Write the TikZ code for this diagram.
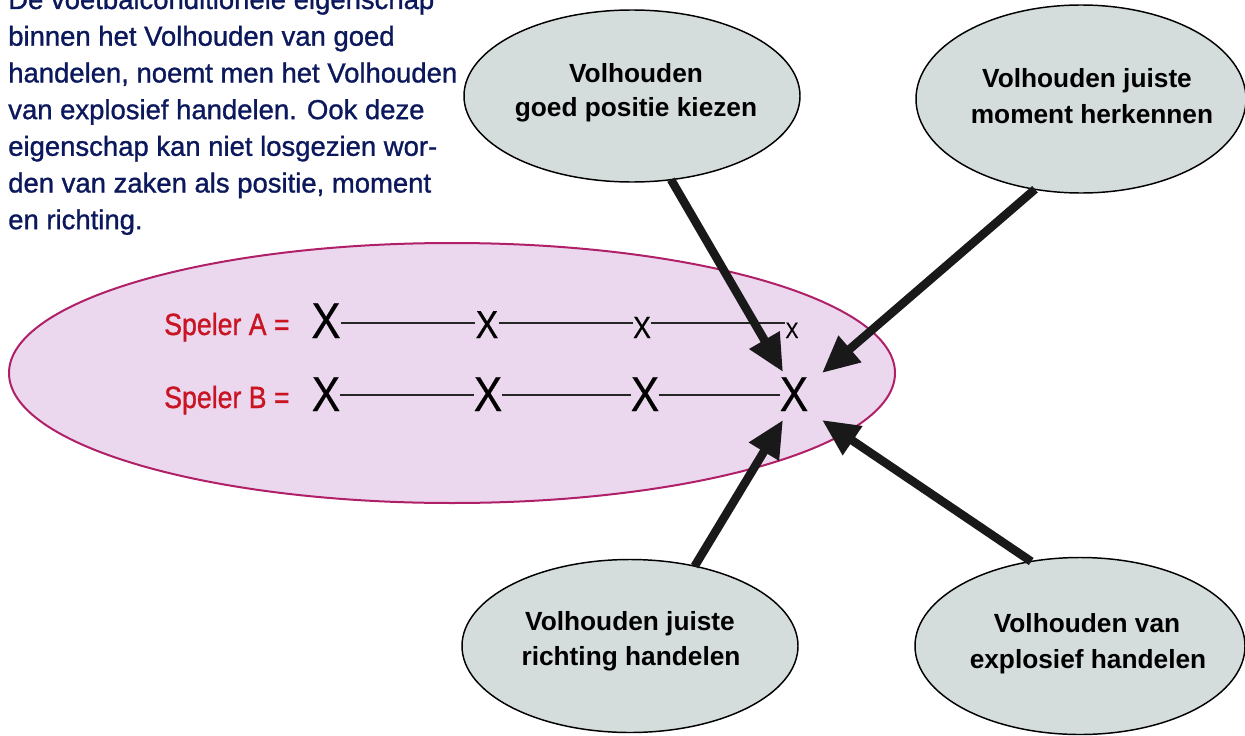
\documentclass[tikz,border=0pt]{standalone}
\usepackage{fontspec}
\setmainfont{Liberation Sans}
\newfontfamily\medfont[FakeBold=1.1]{Liberation Sans}
\newfontfamily\semifont[FakeBold=0.5]{Liberation Sans}
\usetikzlibrary{shapes.geometric,arrows.meta}
\definecolor{navy}{RGB}{12,24,92}
\definecolor{spred}{RGB}{200,20,35}
\definecolor{bubfill}{RGB}{212,220,220}
\definecolor{pinkfill}{RGB}{236,216,238}
\definecolor{pinkedge}{RGB}{176,32,104}
\begin{document}
\begin{tikzpicture}[x=0.75pt,y=-0.75pt,
  bubble/.style={ellipse, draw=black, line width=1.1pt, fill=bubfill, inner sep=0pt, outer sep=0pt},
  group/.style={ellipse, draw=pinkedge, line width=1.5pt, fill=pinkfill, inner sep=0pt, outer sep=0pt},
  bubtext/.style={font=\bfseries\fontsize{19.7pt}{26pt}\selectfont, anchor=base, inner sep=0pt},
  bodytext/.style={text=navy, font=\medfont\fontsize{20.6pt}{27.5pt}\selectfont, anchor=base west, inner sep=0pt},
  speler/.style={text=spred, font=\medfont\fontsize{23pt}{27pt}\selectfont, anchor=base west, inner sep=0pt},
  xmark/.style={anchor=base, inner sep=0pt},
  link/.style={line width=1.5pt, black!85},
  arr/.style={line width=6.4pt, draw=black!90, -{Triangle[length=27.75pt,width=24.75pt]}}
]
\useasboundingbox (0,0) rectangle (1245,735);
\clip (0,0) rectangle (1245,735);

% body text
\node[bodytext] (tl1) at (8,9) {De voetbalconditionele eigenschap};
\node[bodytext] (tl2) at (8,45.7) {binnen het Volhouden van goed};
\node[bodytext] (tl3) at (8,82.4) {handelen, noemt men het Volhouden};
\node[bodytext] (tl4) at (8,119.1) {van explosief handelen. Ook deze};
\node[bodytext] (tl5) at (8,155.8) {eigenschap kan niet losgezien wor-};
\node[bodytext] (tl6) at (8,192.5) {den van zaken als positie, moment};
\node[bodytext] (tl7) at (8,229.2) {en richting.};

% group ellipse
\node[group, minimum width=664.5pt, minimum height=195pt] (grp) at (452,373) {};

% bubbles
\node[bubble, minimum width=252pt, minimum height=129pt] (b1) at (632,96) {};
\node[bubble, minimum width=247.5pt, minimum height=141pt] (b2) at (1081,99) {};
\node[bubble, minimum width=252pt, minimum height=129.75pt] (b3) at (630,646) {};
\node[bubble, minimum width=247.5pt, minimum height=132.75pt] (b4) at (1080,646) {};

\node[bubtext] (b1a) at (636,83) {Volhouden};
\node[bubtext] (b1b) at (636,117) {goed positie kiezen};
\node[bubtext] (b2a) at (1087,88) {Volhouden juiste};
\node[bubtext] (b2b) at (1092,123) {moment herkennen};
\node[bubtext] (b3a) at (630,630) {Volhouden juiste};
\node[bubtext] (b3b) at (631,665) {richting handelen};
\node[bubtext] (b4a) at (1087,632) {Volhouden van};
\node[bubtext] (b4b) at (1088,668) {explosief handelen};

% players
\node[speler] (spa) at (164,335) {\scalebox{0.87}[1]{Speler A =}};
\node[speler] (spb) at (164,408) {\scalebox{0.87}[1]{Speler B =}};

\node[xmark, font=\semifont\fontsize{37.7pt}{40pt}\selectfont] (a1) at (326,338) {\scalebox{0.87}[1]{X}};
\node[xmark, font=\semifont\fontsize{29.3pt}{32pt}\selectfont] (a2) at (487,338) {\scalebox{0.87}[1]{X}};
\node[xmark, font=\semifont\fontsize{23pt}{26pt}\selectfont] (a3) at (642,338) {\scalebox{0.87}[1]{X}};
\node[xmark, font=\semifont\fontsize{16.8pt}{19pt}\selectfont] (a4) at (792,338) {\scalebox{0.87}[1]{X}};

\node[xmark, font=\semifont\fontsize{36.7pt}{40pt}\selectfont] (bb1) at (326,411) {\scalebox{0.87}[1]{X}};
\node[xmark, font=\semifont\fontsize{36.7pt}{40pt}\selectfont] (bb2) at (488,411) {\scalebox{0.87}[1]{X}};
\node[xmark, font=\semifont\fontsize{36.7pt}{40pt}\selectfont] (bb3) at (645,411) {\scalebox{0.87}[1]{X}};
\node[xmark, font=\semifont\fontsize{36.7pt}{40pt}\selectfont] (bb4) at (794,411) {\scalebox{0.87}[1]{X}};

\draw[link] (a1.east |- 0,323) -- (a2.west |- 0,323);
\draw[link] (a2.east |- 0,323) -- (a3.west |- 0,323);
\draw[link] (a3.east |- 0,323) -- (a4.west |- 0,323);
\draw[link] (bb1.east |- 0,395) -- (bb2.west |- 0,395);
\draw[link] (bb2.east |- 0,395) -- (bb3.west |- 0,395);
\draw[link] (bb3.east |- 0,395) -- (bb4.west |- 0,395);

% arrow tips
\coordinate (t1) at (783,372);
\coordinate (t2) at (822,373);
\coordinate (t3) at (783,420);
\coordinate (t4) at (822,420);

\draw[arr] (b1.-65.7) -- (t1);
\draw[arr] (b2.243.7) -- (t2);
\draw[arr] (b3.51.1) -- (t3);
\draw[arr] (b4.120.8) -- (t4);
\end{tikzpicture}
\end{document}
